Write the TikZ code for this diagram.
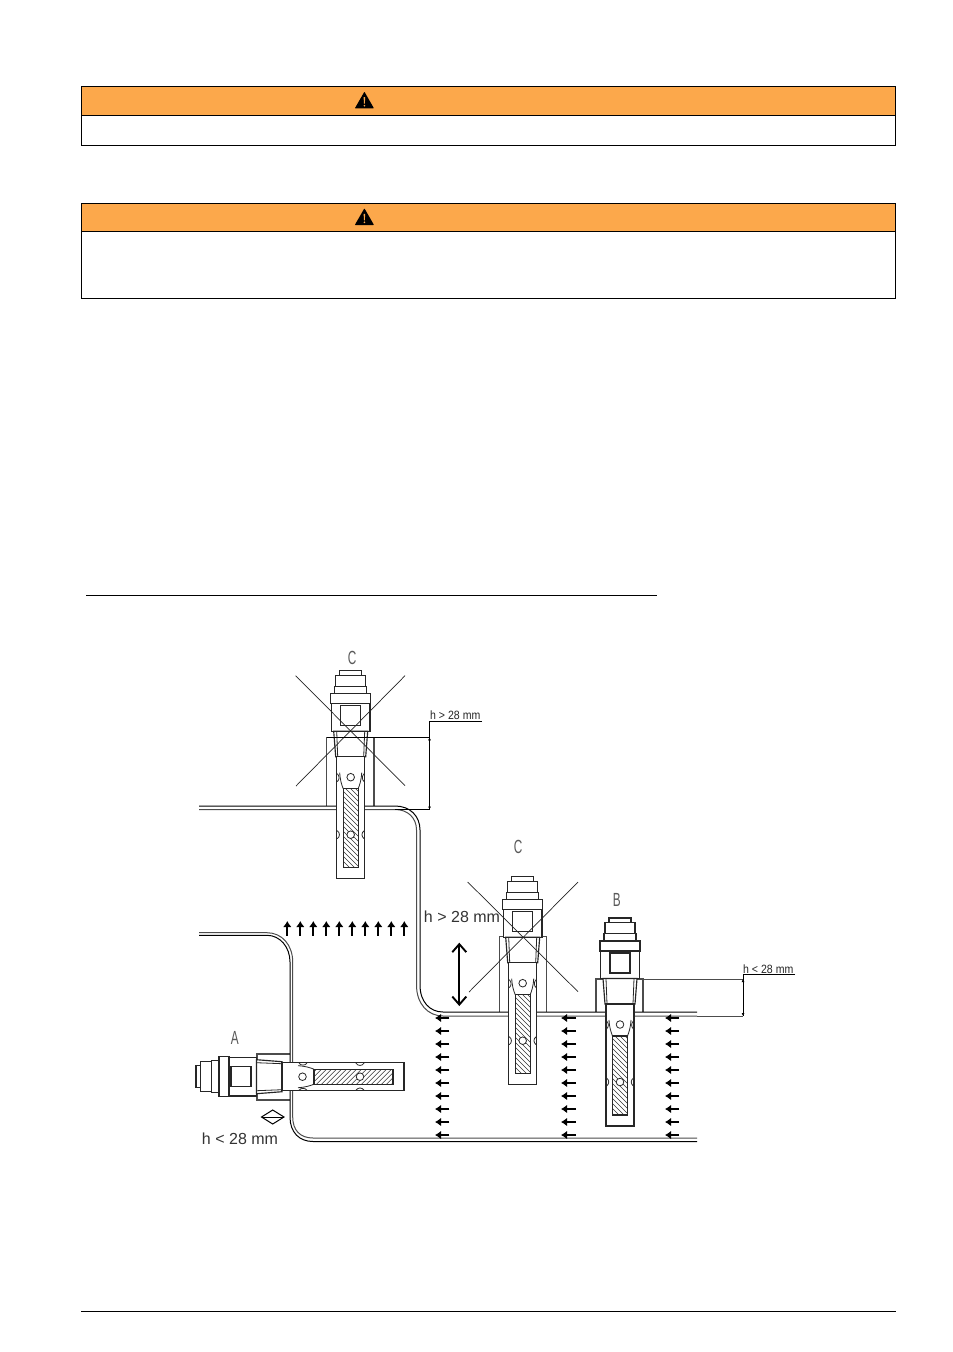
\documentclass[tikz,border=0pt]{standalone}
\usepackage{fontspec}
\setmainfont{Liberation Sans}
\usetikzlibrary{arrows.meta}
\definecolor{warn}{HTML}{FCA84B}
\definecolor{wallgray}{gray}{0.3}
\definecolor{soft}{gray}{0.35}
\tikzset{
  panel/.style={draw=black,line width=0.9pt,fill=warn},
  framebox/.style={draw=black,line width=0.9pt,fill=white},
  wall/.style={draw=black,line width=1pt},
  wallsoft/.style={draw=wallgray,line width=1pt},
  sleeve/.style={draw=wallgray,line width=1.15pt},
  cross/.style={draw=black!85,line width=0.7pt},
  dimline/.style={draw=black,line width=0.85pt},
  dimgray/.style={draw=wallgray,line width=0.9pt},
  flow/.style={draw=black,line width=2pt,-{Latex[length=6pt,width=8.5pt]}},
  letter/.style={text=soft,font=\fontsize{19}{21}\selectfont,inner sep=0pt,xscale=0.62},
  dimtext/.style={font=\fontsize{12}{14}\selectfont,inner sep=0pt,xscale=0.88,anchor=south west,text=black!85},
  bigtext/.style={font=\fontsize{16}{18}\selectfont,inner sep=0pt,text=black!80},
  pl/.style={draw=black!85,line width=1.15pt},
  pt/.style={draw=black!85,line width=0.8pt},
  pics/probe/.style={code={
    \path[pl,fill=white] (-11,0) rectangle (11,4.5);
    \path[pl,fill=white] (-15,4.5) rectangle (15,15.5);
    \path[pl,fill=white] (-16,15.5) rectangle (16,23);
    \path[pl,fill=white,line width=1.35pt] (-20,23) rectangle (20,33);
    \path[pl,fill=white] (-19.3,33) rectangle (19.3,60.5);
    \path[pl] (-10,35) rectangle (10,55);
    \path[pl,fill=white] (-17,60.5) -- (-15,86) -- (15,86) -- (17,60.5) -- cycle;
    \path[pt] (-14,60.5) -- (-13,86) (14,60.5) -- (13,86);
    \path[pl,fill=white] (-14,86) rectangle (14,208);
    \begin{scope}
      \clip (-7.5,118) rectangle (7.5,197);
      \foreach \t in {100,105,...,200}
        \path[draw=black!80,line width=0.65pt] (-8,\t) -- (8,\t+16);
    \end{scope}
    \path[pl] (-7.5,118) rectangle (7.5,197);
    \path[pt] (-11,102) .. controls (-10.5,110) and (-9,114) .. (-7.5,118);
    \path[pt] (11,102) .. controls (10.5,110) and (9,114) .. (7.5,118);
    \path[pt,fill=white] (0,106.5) circle (3.8);
    \path[pt,fill=white] (0,164) circle (3.8);
    \path[pt] (-13.5,103) .. controls (-11,105) and (-11,109) .. (-13.5,111);
    \path[pt] (13.5,103) .. controls (11,105) and (11,109) .. (13.5,111);
    \path[pt] (-13.5,160) .. controls (-10.5,162) and (-10.5,166) .. (-13.5,168);
    \path[pt] (13.5,160) .. controls (10.5,162) and (10.5,166) .. (13.5,168);
  }}
}
\begin{document}
\begin{tikzpicture}[x=1pt,y=-1pt]
\useasboundingbox[fill=white] (0,0) rectangle (953,1352);

% warning boxes
\path[framebox] (81.5,86.5) rectangle (895.5,145.5);
\path[panel] (81.5,86.5) rectangle (895.5,115.5);
\path[framebox] (81.5,203.5) rectangle (895.5,298.5);
\path[panel] (81.5,203.5) rectangle (895.5,231.5);
\foreach \y in {91.7,208.3}{
  \fill[black,rounded corners=0.6pt] (364.4,\y) -- (374,\y+16.7) -- (354.8,\y+16.7) -- cycle;
  \fill[warn] (363.6,\y+5.5) -- (365.2,\y+5.5) -- (364.8,\y+12) -- (364,\y+12) -- cycle;
  \fill[warn] (364.4,\y+14) circle (0.9);
}

% text rule and footer rule
\draw[black,line width=0.6pt] (86,595) -- (657,595);
\draw[black,line width=0.6pt] (81,1311) -- (896,1311);

% sleeves
\draw[sleeve] (326.7,806) -- (326.7,737.3) (374,737.3) -- (374,806);
\draw[sleeve] (499.3,1012) |- (546.7,936.7) -- (546.7,1012);
\draw[sleeve] (596,1012) |- (643,979) -- (643,1012);
\draw[sleeve] (290,1054) -| (257,1100) -- (290,1100);

% walls
\draw[wall] (199,806) -- (395,806) .. controls (410,806) and (420,816) .. (420,830) -- (420,985) .. controls (420,1002) and (430,1012) .. (443,1012) -- (697,1012);
\draw[wallsoft] (199,809.5) -- (395,809.5) .. controls (408,809.5) and (416.5,818) .. (416.5,830) -- (416.5,985) .. controls (416.5,1004) and (428,1016) .. (443,1016) -- (697,1016);
\draw[wallsoft] (199,932.7) -- (267,932.7) .. controls (282,932.7) and (292.7,945) .. (292.7,962) -- (292.7,1117) .. controls (292.7,1130) and (300,1138) .. (313,1138) -- (697,1138);
\draw[wall] (199,935.3) -- (267,935.3) .. controls (280,935.3) and (290,947) .. (290,962) -- (290,1117) .. controls (290,1132) and (299,1141.5) .. (313,1141.5) -- (697,1141.5);

% probes
\pic (probeTop) at (350.7,670.7) {probe};
\pic (probeMid) at (522.7,876.7) {probe};
\pic (probeB) at (620,918) {probe};
\pic[rotate=90] (probeA) at (196,1076.7) {probe};

% crosses
\draw[cross] (295.7,675.7) -- (405,785.7) (405,675.7) -- (296,786);
\draw[cross] (467.7,882) -- (578,991.7) (578,882) -- (469,992);

% dimension top
\coordinate (dTa) at (326.7,737.3);
\coordinate (dTb) at (429.5,737.3);
\coordinate (dTc) at (429.5,809.5);
\coordinate (dTd) at (395,809.5);
\coordinate (dTe) at (429.5,721);
\coordinate (dTf) at (482,721);
\draw[dimline] (dTa) -- (dTb);
\draw[dimline] (dTd) -- (dTc);
\draw[dimline] (dTf) -- (dTe) -- (dTc);
\draw[dimline,{Latex[length=3pt,width=3pt]}-{Latex[length=3pt,width=3pt]}] (dTb) -- (dTc);
\node[dimtext] (labelTop) at (430,720) {h > 28 mm};

% dimension B
\coordinate (dBa) at (643,979);
\coordinate (dBb) at (743,979);
\coordinate (dBc) at (743,1016);
\coordinate (dBd) at (697,1016);
\coordinate (dBe) at (743,974.5);
\coordinate (dBf) at (795,974.5);
\draw[dimgray] (dBa) -- (dBb);
\draw[dimgray] (dBd) -- (dBc);
\draw[dimline] (dBf) -- (dBe) -- (dBc);
\draw[dimline,{Latex[length=3pt,width=3pt]}-{Latex[length=3pt,width=3pt]}] (dBb) -- (dBc);
\node[dimtext] (labelB) at (743,973.5) {h < 28 mm};

% labels
\node[letter] (lC1) at (352,657.5) {C};
\node[letter] (lC2) at (518,846.5) {C};
\node[letter] (lB) at (616.7,899.5) {B};
\node[letter] (lA) at (234.7,1038) {A};
\node[bigtext] (lh1) at (462,916.5) {h > 28 mm};
\node[bigtext] (lh2) at (240,1138.5) {h < 28 mm};

% big arrow
\coordinate (bigA) at (459.3,942.7);
\coordinate (bigB) at (459.3,1006);
\draw[black,line width=1.9pt,{Straight Barb[length=8pt,width=14pt]}-{Straight Barb[length=8pt,width=14pt]}] (bigA) -- (bigB);

% diamond
\coordinate (dmL) at (261.5,1117);
\coordinate (dmR) at (284,1117);
\draw[black,line width=1pt] (dmL) -- (272.7,1110) -- (dmR) -- (272.7,1124) -- cycle;
\draw[black,line width=1pt] (dmL) -- (dmR);

% flow arrows
\foreach \i in {0,...,9}{
  \coordinate (upS) at (287.3+13*\i,935.5);
  \coordinate (upE) at (287.3+13*\i,921);
  \draw[flow] (upS) -- (upE);
}
\foreach \xa/\xb in {449.3/435,576/561,679/665}{
  \foreach \i in {0,...,9}{
    \coordinate (lfS) at (\xa,1018+13*\i);
    \coordinate (lfE) at (\xb,1018+13*\i);
    \draw[flow] (lfS) -- (lfE);
  }
}
\end{tikzpicture}
\end{document}
